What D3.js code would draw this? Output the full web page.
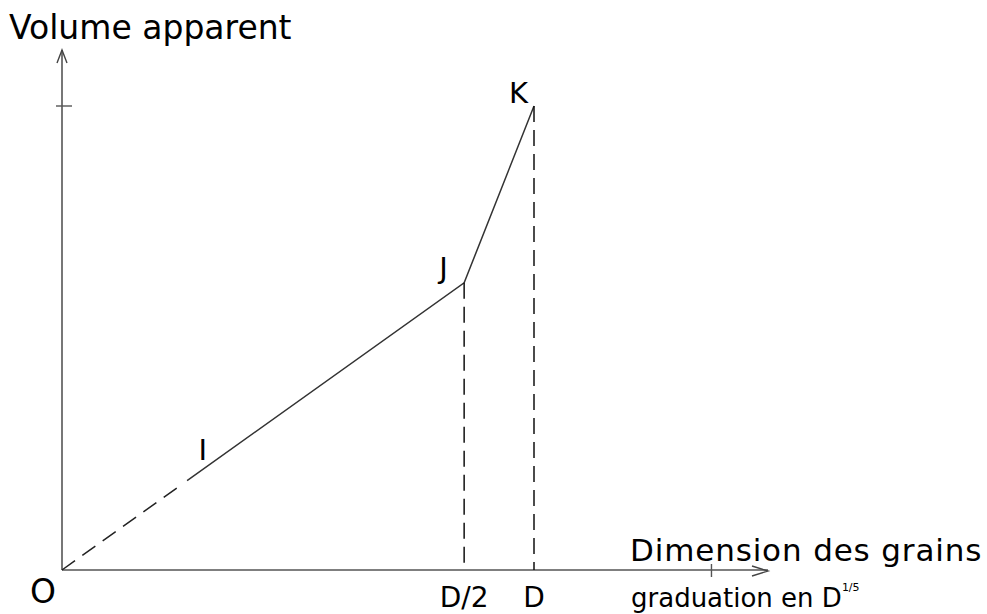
<!DOCTYPE html>
<html>
<head>
<meta charset="utf-8">
<script src="https://cdn.jsdelivr.net/npm/d3@7"></script>
<style>
  body { margin: 0; background: #fff; }
  svg { display: block; }
  text { font-family: "DejaVu Sans", Verdana, sans-serif; fill: #000; }
</style>
</head>
<body>
<svg width="987" height="614"></svg>
<script>
// points of the curve (x in graduation D^1/5, relative to D; y relative to K)
var pointNames = ["O", "I", "J", "K"];
var pointX = [0, 0.285, 0.852, 1];
var pointY = [0, 0.204, 0.619, 1];
// where the dashed start of the line becomes solid
var dashEnd = 0.265;
// tick labels on the x axis
var xTickLabels = ["D/2", "D"];
var xTickValues = [0.852, 1];
var extraTick = 1.376;

var svg = d3.select("svg");
var x = d3.scaleLinear().domain([0, 1]).range([62, 534]),
    y = d3.scaleLinear().domain([0, 1]).range([570, 106]);

var slope = pointY[2] / pointX[2];

// axes
svg.append("line").attr("x1", x(0)).attr("x2", x(0)).attr("y1", y(0)).attr("y2", 50)
    .attr("stroke", "#555").attr("stroke-width", 1.6);
svg.append("path").attr("d", "M57,63L62,50L67,63")
    .attr("fill", "none").attr("stroke", "#444").attr("stroke-width", 1.4);
svg.append("line").attr("x1", 56).attr("x2", 72).attr("y1", y(1)).attr("y2", y(1))
    .attr("stroke", "#555").attr("stroke-width", 1.4);

svg.append("line").attr("x1", x(0)).attr("x2", 768).attr("y1", y(0)).attr("y2", y(0))
    .attr("stroke", "#555").attr("stroke-width", 1.6);
svg.append("path").attr("d", "M752,566L768,571L752,576")
    .attr("fill", "none").attr("stroke", "#444").attr("stroke-width", 1.4);
svg.append("line").attr("x1", x(extraTick)).attr("x2", x(extraTick)).attr("y1", y(0) - 6).attr("y2", y(0) + 7)
    .attr("stroke", "#555").attr("stroke-width", 1.4);

// dashed start O -> I
svg.append("line")
    .attr("x1", x(0)).attr("y1", y(0))
    .attr("x2", x(dashEnd - 0.01)).attr("y2", y((dashEnd - 0.01) * slope))
    .attr("stroke", "#222").attr("stroke-width", 1.5).attr("stroke-dasharray", "16,9");

// solid I -> J -> K
var line = d3.line().x(function(d) { return x(d[0]); }).y(function(d) { return y(d[1]); });
svg.append("path")
    .datum([[dashEnd, dashEnd * slope], [pointX[2], pointY[2]], [pointX[3], pointY[3]]])
    .attr("d", line)
    .attr("fill", "none").attr("stroke", "#333").attr("stroke-width", 1.5);

// dashed drops from J and K
svg.selectAll(".drop")
    .data([2, 3])
    .enter().append("line")
    .attr("class", "drop")
    .attr("x1", function(i) { return x(pointX[i]); })
    .attr("x2", function(i) { return x(pointX[i]); })
    .attr("y1", function(i) { return y(pointY[i]); })
    .attr("y2", y(0))
    .attr("stroke", "#111").attr("stroke-width", 1.5).attr("stroke-dasharray", "16,8");

// point labels
var labelOffsets = [[-32, 33], [2, -15], [-25, -5], [-25, -3]];
svg.selectAll(".pt")
    .data(pointNames)
    .enter().append("text")
    .attr("class", "pt")
    .attr("x", function(d, i) { return x(pointX[i]) + labelOffsets[i][0]; })
    .attr("y", function(d, i) { return y(pointY[i]) + labelOffsets[i][1]; })
    .style("font-size", function(d, i) { return i === 0 ? "33px" : "29px"; })
    .text(function(d) { return d; });

// x tick labels
svg.selectAll(".xl")
    .data(xTickLabels)
    .enter().append("text")
    .attr("class", "xl")
    .attr("x", function(d, i) { return x(xTickValues[i]); })
    .attr("y", 607)
    .attr("text-anchor", "middle")
    .style("font-size", "28px")
    .text(function(d) { return d; });

// axis titles
svg.append("text").attr("x", 9).attr("y", 39).style("font-size", "33px").text("Volume apparent");
svg.append("text").attr("x", 630).attr("y", 561).style("font-size", "31px")
    .style("letter-spacing", "0.85px").text("Dimension des grains");
var g = svg.append("text").attr("x", 631).attr("y", 607).style("font-size", "26px");
g.append("tspan").text("graduation en D");
g.append("tspan").attr("dy", -16).style("font-size", "11px").text("1/5");
</script>
</body>
</html>
